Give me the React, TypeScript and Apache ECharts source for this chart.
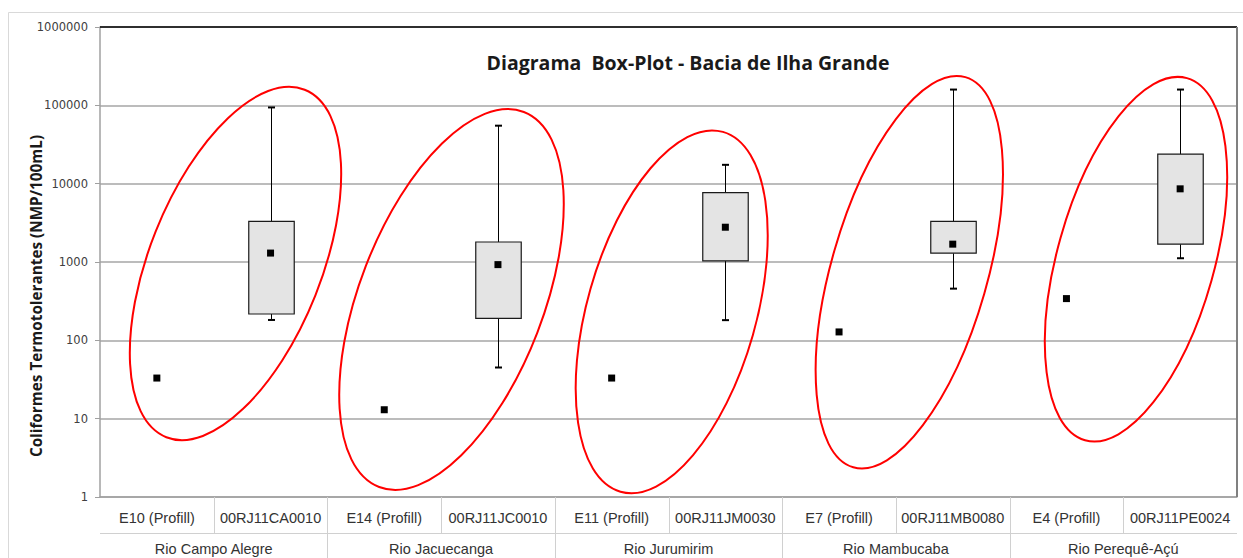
import React, { useEffect, useRef } from "react";
import * as echarts from "echarts";

const categories = [
  "E10 (Profill)", "00RJ11CA0010",
  "E14 (Profill)", "00RJ11JC0010",
  "E11 (Profill)", "00RJ11JM0030",
  "E7 (Profill)", "00RJ11MB0080",
  "E4 (Profill)", "00RJ11PE0024",
];
const groups = ["Rio Campo Alegre", "Rio Jacuecanga", "Rio Jurumirim", "Rio Mambucaba", "Rio Perequê-Açú"];
const boxCategoryIndex = [1, 3, 5, 7, 9];
const boxMin = [182, 45, 181, 457, 1117];
const boxQ1 = [217, 191, 1033, 1295, 1687];
const boxQ3 = [3300, 1800, 7700, 3300, 23800];
const boxMax = [94000, 55000, 17400, 159000, 159000];
const markerValues = [33, 1300, 13, 926, 33, 2780, 128, 1690, 341, 8590];
const yTicks = [1, 10, 100, 1000, 10000, 100000, 1000000];

// red annotation ellipses (pixel geometry): cx, cy, rx, ry, angle (deg)
const ellipses = [
  [235.5, 263.5, 187, 86, 68.3],
  [451.5, 299.5, 201, 92, 68.9],
  [671.7, 311.8, 187, 84.4, 74.1],
  [909.3, 272.2, 203, 78, 74.0],
  [1136, 259.2, 188, 78.4, 74.3],
];

const GRID_LEFT = 100;
const GRID_TOP = 27;
const GRID_RIGHT = 6;
const GRID_BOTTOM = 61;
const W = 1243;
const H = 558;

export default function App() {
  const ref = useRef<HTMLDivElement>(null);
  useEffect(() => {
    if (!ref.current) return;
    const chart = echarts.init(ref.current, undefined, { renderer: "svg" });
    const plotW = W - GRID_LEFT - GRID_RIGHT;
    const plotBottom = H - GRID_BOTTOM;
    const slot = plotW / categories.length;

    const graphics: any[] = [];
    graphics.push({
      type: "rect",
      shape: { x: 8.5, y: 12.5, width: 1300, height: 600 },
      style: { fill: "none", stroke: "#d9d9d9", lineWidth: 1 },
      z: 0,
      silent: true,
    });
    for (let i = 1; i < categories.length; i++) {
      const x = Math.round(GRID_LEFT + i * slot) + 0.5;
      graphics.push({
        type: "line",
        shape: { x1: x, y1: plotBottom, x2: x, y2: 533 },
        style: { stroke: "#d0d0d0", lineWidth: 1 },
        z: 5,
      });
    }
    for (let g = 1; g < groups.length; g++) {
      const x = Math.round(GRID_LEFT + g * 2 * slot) + 0.5;
      graphics.push({
        type: "line",
        shape: { x1: x, y1: 533, x2: x, y2: H },
        style: { stroke: "#d0d0d0", lineWidth: 1 },
        z: 5,
      });
    }
    graphics.push({
      type: "line",
      shape: { x1: GRID_LEFT, y1: 533.5, x2: W - GRID_RIGHT, y2: 533.5 },
      style: { stroke: "#d0d0d0", lineWidth: 1 },
      z: 5,
    });
    graphics.push({
      type: "line",
      shape: { x1: GRID_LEFT, y1: GRID_TOP, x2: W - GRID_RIGHT, y2: GRID_TOP },
      style: { stroke: "#000000", lineWidth: 1.5 },
      z: 6,
    });
    graphics.push({
      type: "line",
      shape: { x1: W - GRID_RIGHT, y1: GRID_TOP, x2: W - GRID_RIGHT, y2: plotBottom },
      style: { stroke: "#808080", lineWidth: 2 },
      z: 6,
    });
    graphics.push({
      type: "text",
      x: 688,
      y: 62,
      style: {
        text: "Diagrama  Box-Plot - Bacia de Ilha Grande",
        font: "bold 19.5px 'Open Sans'",
        fill: "#1a1a1a",
        textAlign: "center",
        textVerticalAlign: "middle",
      },
      z: 10,
    });
    graphics.push({
      type: "text",
      x: 36,
      y: 296,
      rotation: Math.PI / 2,
      style: {
        text: "Coliformes Termotolerantes (NMP/100mL)",
        font: "bold 15.3px 'Open Sans'",
        fill: "#1a1a1a",
        textAlign: "center",
        textVerticalAlign: "middle",
      },
      z: 10,
    });
    ellipses.forEach(([cx, cy, rx, ry, ang]) => {
      graphics.push({
        type: "ellipse",
        x: cx,
        y: cy,
        rotation: (ang * Math.PI) / 180,
        shape: { cx: 0, cy: 0, rx, ry },
        style: { fill: "none", stroke: "#ff0000", lineWidth: 2 },
        z: 100,
        silent: true,
      });
    });

    const boxData = boxCategoryIndex.map((ci, i) => [ci, boxMin[i], boxQ1[i], boxQ3[i], boxMax[i]]);

    chart.setOption({
      animation: false,
      backgroundColor: "#ffffff",
      grid: { left: GRID_LEFT, top: GRID_TOP, right: GRID_RIGHT, bottom: GRID_BOTTOM, containLabel: false },
      xAxis: [
        {
          type: "category",
          data: categories,
          position: "bottom",
          offset: 0,
          axisLine: { show: true, lineStyle: { color: "#a0a0a0", width: 1.5 } },
          axisTick: { show: false },
          splitLine: { show: false },
          axisLabel: {
            interval: 0,
            margin: 13,
            color: "#333333",
            fontFamily: "'Liberation Sans', Arial, sans-serif",
            fontSize: 14.5,
          },
        },
        {
          type: "category",
          data: groups,
          position: "bottom",
          offset: 0,
          axisLine: { show: false },
          axisTick: { show: false },
          splitLine: { show: false },
          axisLabel: {
            interval: 0,
            margin: 44,
            color: "#333333",
            fontFamily: "'Liberation Sans', Arial, sans-serif",
            fontSize: 14.5,
          },
        },
      ],
      yAxis: {
        type: "log",
        logBase: 10,
        min: yTicks[0],
        max: yTicks[yTicks.length - 1],
        splitNumber: 6,
        axisLine: { show: true, lineStyle: { color: "#a0a0a0", width: 1.5 } },
        axisTick: { show: true, length: 5, lineStyle: { color: "#a0a0a0" } },
        splitLine: { show: true, lineStyle: { color: "#a6a6a6", width: 1.5 } },
        axisLabel: {
          margin: 12,
          color: "#404040",
          fontFamily: "'DejaVu Sans', Verdana, sans-serif",
          fontSize: 11.5,
          formatter: (v: number) => String(Math.round(v)),
        },
      },
      graphic: graphics,
      series: [
        {
          type: "custom",
          xAxisIndex: 0,
          yAxisIndex: 0,
          data: boxData,
          z: 3,
          renderItem: (params: any, api: any) => {
            const x = api.value(0);
            const vMin = api.value(1);
            const vQ1 = api.value(2);
            const vQ3 = api.value(3);
            const vMax = api.value(4);
            const pMin = api.coord([x, vMin]);
            const pQ1 = api.coord([x, vQ1]);
            const pQ3 = api.coord([x, vQ3]);
            const pMax = api.coord([x, vMax]);
            const band = Math.abs(api.coord([x - 1, vQ1])[0] - pQ1[0]);
            const bw = band * 0.4;
            const cx = Math.round(pQ1[0]) + 0.5;
            const cap = 7;
            return {
              type: "group",
              children: [
                { type: "line", shape: { x1: cx, y1: pMax[1], x2: cx, y2: pQ3[1] }, style: { stroke: "#000", lineWidth: 1 } },
                { type: "line", shape: { x1: cx, y1: pQ1[1], x2: cx, y2: pMin[1] }, style: { stroke: "#000", lineWidth: 1 } },
                { type: "line", shape: { x1: cx - cap / 2, y1: pMax[1], x2: cx + cap / 2, y2: pMax[1] }, style: { stroke: "#000", lineWidth: 2 } },
                { type: "line", shape: { x1: cx - cap / 2, y1: pMin[1], x2: cx + cap / 2, y2: pMin[1] }, style: { stroke: "#000", lineWidth: 2 } },
                {
                  type: "rect",
                  shape: { x: cx - bw / 2, y: pQ3[1], width: bw, height: pQ1[1] - pQ3[1] },
                  style: { fill: "#e4e4e4", stroke: "#1a1a1a", lineWidth: 1.2 },
                },
              ],
            };
          },
        },
        {
          type: "scatter",
          xAxisIndex: 0,
          yAxisIndex: 0,
          data: markerValues,
          symbol: "rect",
          symbolSize: 7,
          itemStyle: { color: "#000000", opacity: 1 },
          z: 4,
        },
      ],
    });
    return () => chart.dispose();
  }, []);
  return (
    <div
      ref={ref}
      style={{ position: "fixed", left: 0, top: 0, width: W, height: H, background: "#fff" }}
    />
  );
}
